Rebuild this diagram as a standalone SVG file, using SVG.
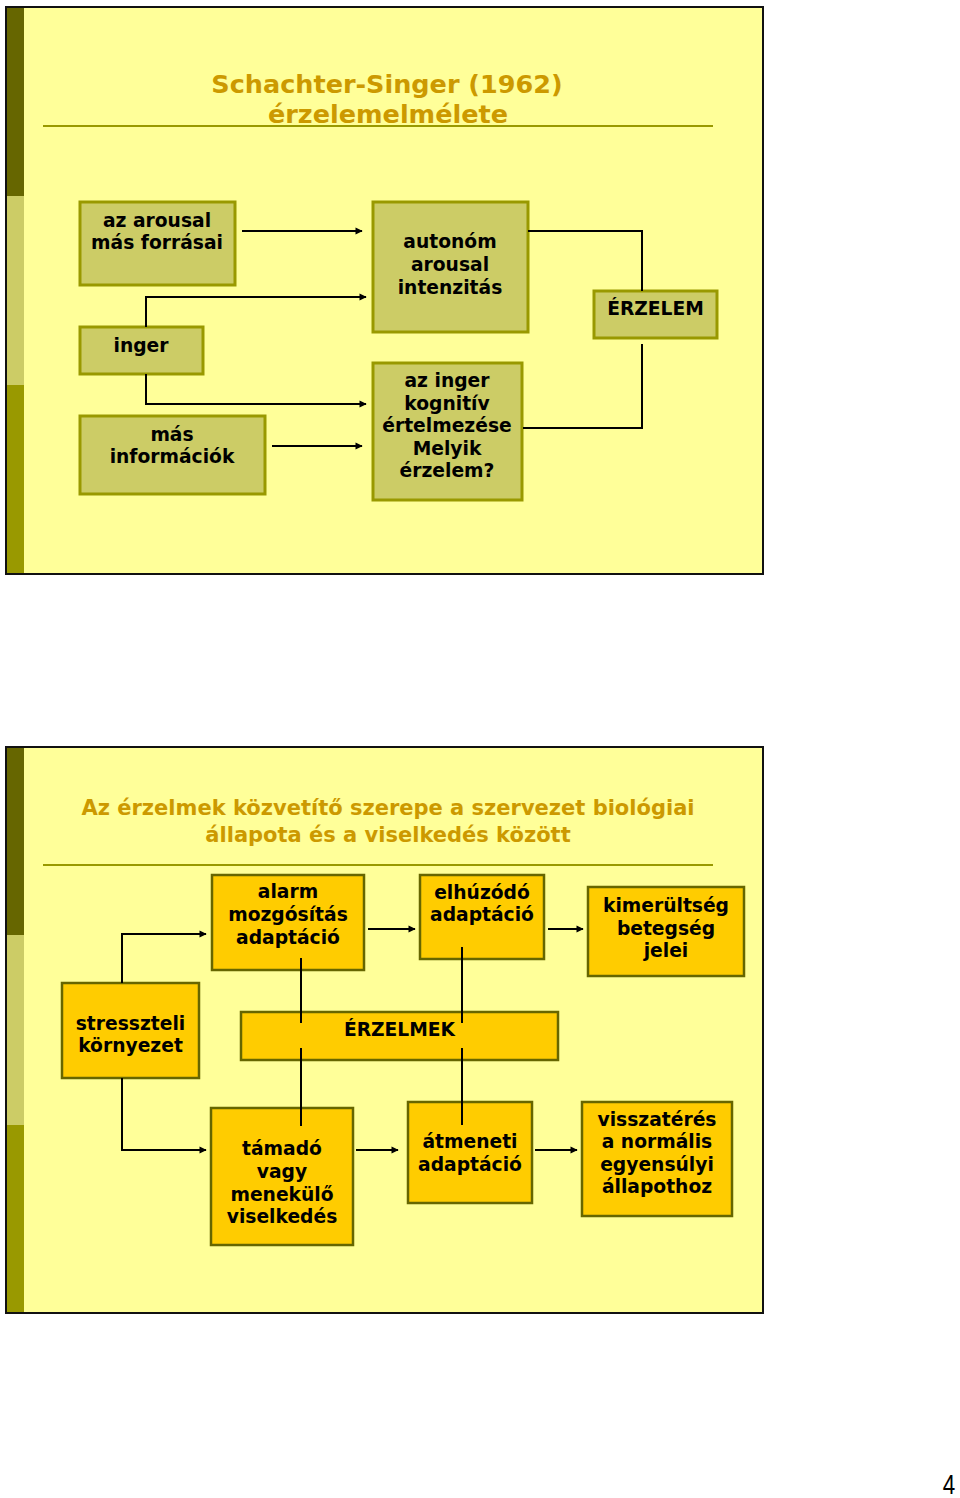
<svg xmlns="http://www.w3.org/2000/svg" width="960" height="1498" viewBox="0 0 960 1498">
<defs>
<style>
.slide{fill:#FFFF99;stroke:#111;stroke-width:2}
.title{font-family:"DejaVu Sans",Verdana,sans-serif;font-weight:bold;fill:#CC9900;text-anchor:middle}
.rule{stroke:#999900;stroke-width:2}
.b1{fill:#CCCC66;stroke:#999900;stroke-width:3}
.b2{fill:#FFCC00;stroke:#666600;stroke-width:2.5}
.t{font-family:"DejaVu Sans",Verdana,sans-serif;font-weight:bold;font-size:18.7px;fill:#000;text-anchor:middle}
.c{fill:none;stroke:#000;stroke-width:2}
.a{marker-end:url(#arr)}
</style>
<marker id="arr" viewBox="0 0 10 10" refX="9" refY="5" markerWidth="4.5" markerHeight="3.6" orient="auto" markerUnits="strokeWidth">
<path d="M0,0 L10,5 L0,10 z" fill="#000"/>
</marker>
</defs>
<rect width="960" height="1498" fill="#fff"/>

<g id="slide1">
<rect class="slide" x="6" y="7" width="757" height="567"/>
<rect x="7" y="8" width="17" height="188" fill="#666600"/>
<rect x="7" y="196" width="17" height="189" fill="#CCCC66"/>
<rect x="7" y="385" width="17" height="188" fill="#999900"/>
<text class="title" font-size="25.5" x="387" y="93">Schachter-Singer (1962)</text>
<text class="title" font-size="25.5" x="388" y="123">érzelemelmélete</text>
<line class="rule" x1="43" y1="126" x2="713" y2="126"/>
</g>

<g id="slide2">
<rect class="slide" x="6" y="747" width="757" height="566"/>
<rect x="7" y="748" width="17" height="187" fill="#666600"/>
<rect x="7" y="935" width="17" height="190" fill="#CCCC66"/>
<rect x="7" y="1125" width="17" height="187" fill="#999900"/>
<text class="title" font-size="21" x="388" y="815">Az érzelmek közvetítő szerepe a szervezet biológiai</text>
<text class="title" font-size="21" x="388" y="842">állapota és a viselkedés között</text>
<line class="rule" x1="43" y1="865" x2="713" y2="865"/>
</g>

<g id="n-forrasai">
<rect class="b1" x="80" y="202" width="155" height="83"/>
<text class="t" x="157" y="227">az arousal</text>
<text class="t" x="157" y="249">más forrásai</text>
</g>
<g id="n-inger">
<rect class="b1" x="80" y="327" width="123" height="47"/>
<text class="t" x="141" y="352">inger</text>
</g>
<g id="n-informaciok">
<rect class="b1" x="80" y="416" width="185" height="78"/>
<text class="t" x="172" y="441">más</text>
<text class="t" x="172" y="463">információk</text>
</g>
<g id="n-autonom">
<rect class="b1" x="373" y="202" width="155" height="130"/>
<text class="t" x="450" y="248">autonóm</text>
<text class="t" x="450" y="271">arousal</text>
<text class="t" x="450" y="294">intenzitás</text>
</g>
<g id="n-kognitiv">
<rect class="b1" x="373" y="363" width="149" height="137"/>
<text class="t" x="447" y="387">az inger</text>
<text class="t" x="447" y="410">kognitív</text>
<text class="t" x="447" y="432">értelmezése</text>
<text class="t" x="447" y="455">Melyik</text>
<text class="t" x="447" y="477">érzelem?</text>
</g>
<g id="n-erzelem">
<rect class="b1" x="594" y="291" width="123" height="47"/>
<text class="t" x="655.5" y="315">ÉRZELEM</text>
</g>

<g id="n-alarm">
<rect class="b2" x="212" y="875" width="152" height="95"/>
<text class="t" x="288" y="898">alarm</text>
<text class="t" x="288" y="921">mozgósítás</text>
<text class="t" x="288" y="944">adaptáció</text>
</g>
<g id="n-elhuzodo">
<rect class="b2" x="420" y="875" width="124" height="84"/>
<text class="t" x="482" y="899">elhúzódó</text>
<text class="t" x="482" y="921">adaptáció</text>
</g>
<g id="n-kimerultseg">
<rect class="b2" x="588" y="887" width="156" height="89"/>
<text class="t" x="666" y="912">kimerültség</text>
<text class="t" x="666" y="935">betegség</text>
<text class="t" x="666" y="957">jelei</text>
</g>
<g id="n-stresszteli">
<rect class="b2" x="62" y="983" width="137" height="95"/>
<text class="t" x="130.5" y="1030">stresszteli</text>
<text class="t" x="130.5" y="1052">környezet</text>
</g>
<g id="n-erzelmek">
<rect class="b2" x="241" y="1012" width="317" height="48"/>
<text class="t" x="399.5" y="1036">ÉRZELMEK</text>
</g>
<g id="n-tamado">
<rect class="b2" x="211" y="1108" width="142" height="137"/>
<text class="t" x="282" y="1155">támadó</text>
<text class="t" x="282" y="1178">vagy</text>
<text class="t" x="282" y="1201">menekülő</text>
<text class="t" x="282" y="1223">viselkedés</text>
</g>
<g id="n-atmeneti">
<rect class="b2" x="408" y="1102" width="124" height="101"/>
<text class="t" x="470" y="1148">átmeneti</text>
<text class="t" x="470" y="1171">adaptáció</text>
</g>
<g id="n-visszateres">
<rect class="b2" x="582" y="1102" width="150" height="114"/>
<text class="t" x="657" y="1126">visszatérés</text>
<text class="t" x="657" y="1148">a normális</text>
<text class="t" x="657" y="1171">egyensúlyi</text>
<text class="t" x="657" y="1193">állapothoz</text>
</g>

<g id="connectors">
<path class="c a" d="M242,231 H362"/>
<path class="c a" d="M146,327 V297 H366"/>
<path class="c a" d="M146,374 V404 H366"/>
<path class="c a" d="M272,446 H362"/>
<path class="c" d="M528,231 H642 V291"/>
<path class="c" d="M523,428 H642 V344"/>

<path class="c a" d="M122,983 V934 H206"/>
<path class="c a" d="M122,1078 V1150 H206"/>
<path class="c a" d="M368,929 H415"/>
<path class="c a" d="M548,929 H583"/>
<path class="c a" d="M356,1150 H398"/>
<path class="c a" d="M535,1150 H577"/>
<path class="c" d="M301,958 V1023 M301,1048 V1126"/>
<path class="c" d="M462,947 V1023 M462,1048 V1125"/>
</g>

<text transform="translate(949,1494) scale(0.8,1)" x="0" y="0" font-family="Liberation Sans, Arial, sans-serif" font-size="28" text-anchor="middle" fill="#000">4</text>
</svg>
